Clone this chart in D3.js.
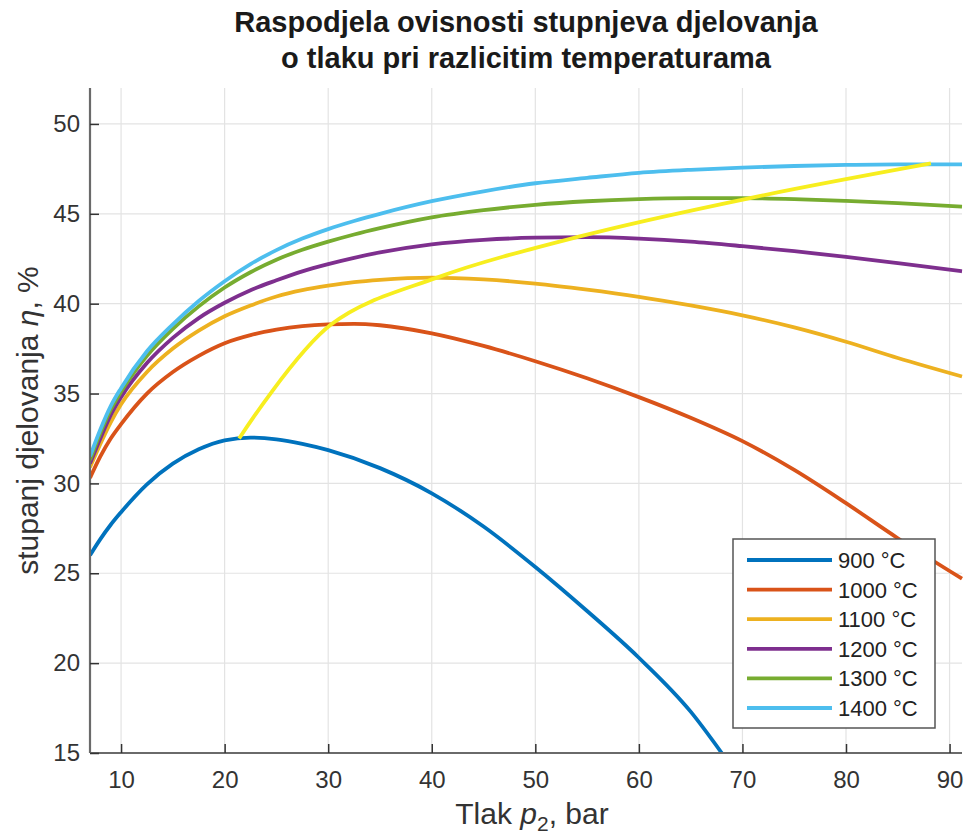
<!DOCTYPE html>
<html>
<head>
<meta charset="utf-8">
<script src="https://cdn.jsdelivr.net/npm/d3@7"></script>
<style>
html,body{margin:0;padding:0;background:#fff;}
svg{display:block;font-family:"Liberation Sans",Arial,Helvetica,sans-serif;}
</style>
</head>
<body>
<svg id="chart" width="966" height="838"></svg>
<script>
// ---- data ----
const pressure = [7, 8, 9, 10, 12.5, 15, 17.5, 20, 22.5, 25, 27.5, 30, 32.5, 35, 40, 45, 50, 55, 60, 65, 70, 75, 80, 85, 91.2];
const temps = ["900 °C", "1000 °C", "1100 °C", "1200 °C", "1300 °C", "1400 °C"];
const p900 = [7, 8, 9, 10, 12.5, 15, 17.5, 20, 22.5, 25, 27.5, 30, 35, 40, 45, 50, 55, 60, 65, 68];
const eta900 = [26.0, 26.9, 27.7, 28.4, 29.95, 31.1, 31.9, 32.4, 32.55, 32.45, 32.2, 31.85, 30.85, 29.45, 27.6, 25.35, 22.9, 20.3, 17.3, 15.0];
const eta1000 = [30.3, 31.5, 32.5, 33.3, 35.0, 36.2, 37.1, 37.8, 38.25, 38.55, 38.75, 38.85, 38.88, 38.8, 38.35, 37.65, 36.8, 35.85, 34.8, 33.65, 32.35, 30.75, 28.9, 26.95, 24.7];
const eta1100 = [30.9, 32.2, 33.4, 34.4, 36.2, 37.5, 38.5, 39.3, 39.9, 40.4, 40.75, 41.0, 41.2, 41.33, 41.45, 41.35, 41.12, 40.78, 40.38, 39.9, 39.35, 38.68, 37.88, 36.98, 35.95];
const eta1200 = [31.1, 32.5, 33.8, 34.8, 36.7, 38.1, 39.2, 40.05, 40.75, 41.3, 41.8, 42.2, 42.55, 42.85, 43.3, 43.55, 43.67, 43.7, 43.62, 43.45, 43.2, 42.92, 42.6, 42.25, 41.8];
const eta1300 = [31.3, 32.8, 34.1, 35.1, 37.1, 38.6, 39.85, 40.9, 41.75, 42.45, 43.0, 43.45, 43.85, 44.2, 44.8, 45.2, 45.5, 45.7, 45.82, 45.87, 45.87, 45.82, 45.72, 45.6, 45.4];
const eta1400 = [31.5, 33.0, 34.3, 35.3, 37.35, 38.85, 40.15, 41.25, 42.2, 42.98, 43.62, 44.15, 44.6, 45.0, 45.7, 46.25, 46.7, 47.0, 47.28, 47.45, 47.57, 47.66, 47.72, 47.75, 47.75];
// line through the maxima of the curves
const maxP = [21.4, 30.3, 40.5, 54.0, 70.5, 88.2];
const maxEta = [32.5, 38.85, 41.45, 43.7, 45.85, 47.8];
const xTicks = [10, 20, 30, 40, 50, 60, 70, 80, 90];
const yTicks = [15, 20, 25, 30, 35, 40, 45, 50];
const colors = ["#0072BD", "#D95319", "#EDB120", "#7E2F8E", "#77AC30", "#4DBEEE"];

// ---- layout ----
const svg = d3.select("#chart");
const L = 90, R = 962, T = 88, B = 753;
const x = d3.scaleLinear().domain([7, 91.2]).range([L, R]);
const y = d3.scaleLinear().domain([15, 52]).range([B, T]);

// grid
const g = svg.append("g");
g.selectAll(".vg").data(xTicks).join("line")
  .attr("x1", d => x(d)).attr("x2", d => x(d)).attr("y1", T).attr("y2", B)
  .attr("stroke", "#e3e3e3").attr("stroke-width", 1.2);
g.selectAll(".hg").data(yTicks).join("line")
  .attr("x1", L).attr("x2", R).attr("y1", d => y(d)).attr("y2", d => y(d))
  .attr("stroke", "#e3e3e3").attr("stroke-width", 1.2);

// clip
svg.append("clipPath").attr("id", "clip").append("rect")
  .attr("x", L).attr("y", T).attr("width", R - L + 4).attr("height", B - T);

const line = d3.line().x(d => x(d[0])).y(d => y(d[1])).curve(d3.curveMonotoneX);
const series = [
  d3.zip(p900, eta900),
  d3.zip(pressure, eta1000),
  d3.zip(pressure, eta1100),
  d3.zip(pressure, eta1200),
  d3.zip(pressure, eta1300),
  d3.zip(pressure, eta1400)
];
const plot = svg.append("g").attr("clip-path", "url(#clip)");
plot.selectAll(".s").data(series).join("path")
  .attr("d", d => line(d)).attr("fill", "none")
  .attr("stroke", (d, i) => colors[i]).attr("stroke-width", 3.8)
  .attr("stroke-linejoin", "round");
plot.append("path")
  .attr("d", d3.line().x(d => x(d[0])).y(d => y(d[1])).curve(d3.curveCatmullRom.alpha(0.5))(d3.zip(maxP, maxEta)))
  .attr("fill", "none").attr("stroke", "#f7ee1f").attr("stroke-width", 3.8);

// axes
const ax = svg.append("g").attr("transform", `translate(0,${B})`)
  .call(d3.axisBottom(x).tickValues(xTicks).tickSizeInner(-9).tickSizeOuter(0).tickPadding(18));
const ay = svg.append("g").attr("transform", `translate(${L},0)`)
  .call(d3.axisLeft(y).tickValues(yTicks).tickSizeInner(-9).tickSizeOuter(0).tickPadding(10));
[ax, ay].forEach(a => {
  a.select(".domain").attr("stroke", "#6a6a6a").attr("stroke-width", 2.2);
  a.selectAll(".tick line").attr("stroke", "#333").attr("stroke-width", 1.5);
  a.selectAll(".tick text").attr("fill", "#333").style("font-size", "24px")
   .style("font-family", "'Liberation Sans', Arial, sans-serif");
});
ay.select(".domain").attr("d", `M0,${T}V${B}`);
ax.select(".domain").attr("d", `M${L},0H${R}`);

// title
const title = svg.append("text").attr("text-anchor", "middle").attr("font-weight", "bold")
  .attr("fill", "#1a1a1a").style("font-size", "29px");
title.append("tspan").attr("x", 526).attr("y", 32).text("Raspodjela ovisnosti stupnjeva djelovanja");
title.append("tspan").attr("x", 526).attr("y", 68).text("o tlaku pri razlicitim temperaturama");

// x label
const xl = svg.append("text").attr("x", 532).attr("y", 824).attr("text-anchor", "middle")
  .attr("fill", "#333").style("font-size", "30px");
xl.append("tspan").text("Tlak ");
xl.append("tspan").attr("font-style", "italic").text("p");
xl.append("tspan").attr("dy", 7).style("font-size", "21px").text("2");
xl.append("tspan").attr("dy", -7).text(", bar");

// y label
const yl = svg.append("text").attr("transform", `translate(38,${(T + B) / 2}) rotate(-90)`)
  .attr("text-anchor", "middle").attr("fill", "#333").style("font-size", "30px");
yl.append("tspan").text("stupanj djelovanja ");
yl.append("tspan").attr("font-style", "italic").text("η");
yl.append("tspan").text(", %");

// legend
const lg = svg.append("g");
lg.append("rect").attr("x", 733).attr("y", 539).attr("width", 202).attr("height", 189)
  .attr("fill", "#fff").attr("stroke", "#555").attr("stroke-width", 1.5);
const rows = lg.selectAll(".row").data(temps).join("g")
  .attr("transform", (d, i) => `translate(0,${560 + i * 29.6})`);
rows.append("line").attr("x1", 747).attr("x2", 832).attr("y1", 0).attr("y2", 0)
  .attr("stroke", (d, i) => colors[i]).attr("stroke-width", 3.8);
rows.append("text").attr("x", 838).attr("y", 8).attr("fill", "#222")
  .style("font-size", "22px").text(d => d);
</script>
</body>
</html>
